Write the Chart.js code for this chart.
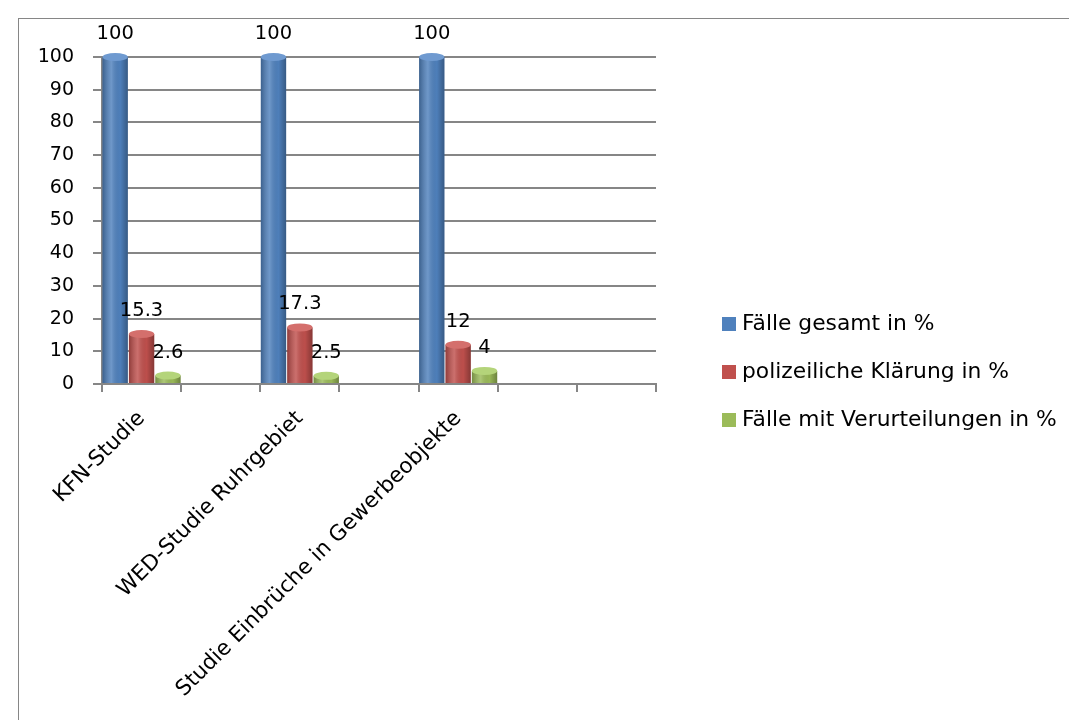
<!DOCTYPE html>
<html>
<head>
<meta charset="utf-8">
<script src="https://cdn.jsdelivr.net/npm/chart.js@4.4.0/dist/chart.umd.min.js"></script>
<style>
  html, body { margin: 0; padding: 0; background: #fff; overflow: hidden; }
  #wrap { position: relative; width: 1069px; height: 720px; }
  #frame { position: absolute; left: 18px; top: 18px; width: 1200px; height: 900px; border: 1px solid #868686; box-sizing: border-box; }
  #chart { position: absolute; left: 0; top: 0; }
  #legend { position: absolute; left: 722px; top: 308px; font-family: "DejaVu Sans", sans-serif; font-size: 21.8px; color: #000; }
  #legend .item { height: 48px; line-height: 30px; white-space: nowrap; }
  #legend .box { display: inline-block; width: 14px; height: 14px; margin-right: 6px; vertical-align: -1px; }
</style>
</head>
<body>
<div id="wrap">
  <div id="frame"></div>
  <canvas id="chart" width="1069" height="720"></canvas>
  <div id="legend"></div>
</div>
<script>
  // categories (empty slots are blank categories in the original sheet)
  const categories = ['KFN-Studie', '', 'WED-Studie Ruhrgebiet', '', 'Studie Einbrüche in Gewerbeobjekte', '', ''];
  const seriesNames = ['Fälle gesamt in %', 'polizeiliche Klärung in %', 'Fälle mit Verurteilungen in %'];
  const faelleGesamt = [100, null, 100, null, 100, null, null];
  const polizeilicheKlaerung = [15.3, null, 17.3, null, 12, null, null];
  const verurteilungen = [2.6, null, 2.5, null, 4, null, null];
  const yTicks = [0, 10, 20, 30, 40, 50, 60, 70, 80, 90, 100];

  const colors = ['#4F81BD', '#C0504D', '#9BBB59'];
  const capColors = ['#6F9AD0', '#D46F6C', '#B4D47A'];
  const family = 'DejaVu Sans';

  // shade each bar like a cylinder + top ellipse
  const cylinderPlugin = {
    id: 'cylinder',
    afterDatasetsDraw(chart) {
      const ctx = chart.ctx;
      chart.data.datasets.forEach((ds, di) => {
        chart.getDatasetMeta(di).data.forEach((el, i) => {
          if (ds.data[i] == null) return;
          const w = el.width, l = el.x - w / 2, top = el.y, bottom = el.base;
          const g = ctx.createLinearGradient(l, 0, l + w, 0);
          g.addColorStop(0, 'rgba(0,0,0,0.25)');
          g.addColorStop(0.35, 'rgba(255,255,255,0.18)');
          g.addColorStop(0.7, 'rgba(0,0,0,0.02)');
          g.addColorStop(1, 'rgba(0,0,0,0.3)');
          ctx.save();
          ctx.fillStyle = g;
          ctx.fillRect(l, top, w, bottom - top);
          ctx.beginPath();
          ctx.ellipse(el.x, top, w / 2, 4, 0, 0, Math.PI * 2);
          ctx.fillStyle = capColors[di];
          ctx.fill();
          ctx.restore();
        });
      });
    }
  };

  const valueLabels = {
    id: 'valueLabels',
    afterDatasetsDraw(chart) {
      const ctx = chart.ctx;
      ctx.save();
      ctx.font = '19.5px ' + family;
      ctx.fillStyle = '#000';
      ctx.textAlign = 'center';
      ctx.textBaseline = 'middle';
      chart.data.datasets.forEach((ds, di) => {
        chart.getDatasetMeta(di).data.forEach((el, i) => {
          if (ds.data[i] == null) return;
          ctx.fillText(String(ds.data[i]), el.x, el.y - 23);
        });
      });
      ctx.restore();
    }
  };

  const legend = document.getElementById('legend');
  seriesNames.forEach((name, i) => {
    const d = document.createElement('div');
    d.className = 'item';
    d.innerHTML = '<span class="box" style="background:' + colors[i] + '"></span>' + name;
    legend.appendChild(d);
  });

  new Chart(document.getElementById('chart'), {
    type: 'bar',
    data: {
      labels: categories,
      datasets: [
        { label: seriesNames[0], data: faelleGesamt, backgroundColor: colors[0] },
        { label: seriesNames[1], data: polizeilicheKlaerung, backgroundColor: colors[1] },
        { label: seriesNames[2], data: verurteilungen, backgroundColor: colors[2] }
      ]
    },
    options: {
      responsive: false,
      animation: false,
      devicePixelRatio: 1,
      layout: { padding: { top: 57, right: 413, left: 0, bottom: 0 } },
      datasets: { bar: { categoryPercentage: 1, barPercentage: 0.96, skipNull: false } },
      plugins: { legend: { display: false }, tooltip: { enabled: false } },
      scales: {
        x: {
          afterFit: s => { s.height = 336; },
          grid: { display: true, offset: true, drawOnChartArea: false, tickLength: 8, color: '#868686', lineWidth: 2 },
          border: { color: '#868686', width: 2 },
          ticks: { autoSkip: false, minRotation: 45, maxRotation: 45, color: '#000', font: { family: family, size: 21.5 }, padding: 14 }
        },
        y: {
          min: 0, max: 100,
          afterFit: s => { s.width = 102; },
          afterBuildTicks: s => { s.ticks = yTicks.map(v => ({ value: v })); },
          grid: { color: '#868686', lineWidth: 2, tickLength: 9 },
          border: { color: '#868686', width: 2 },
          ticks: { color: '#000', font: { family: family, size: 19 }, padding: 19 }
        }
      }
    },
    plugins: [cylinderPlugin, valueLabels]
  });
</script>
</body>
</html>
